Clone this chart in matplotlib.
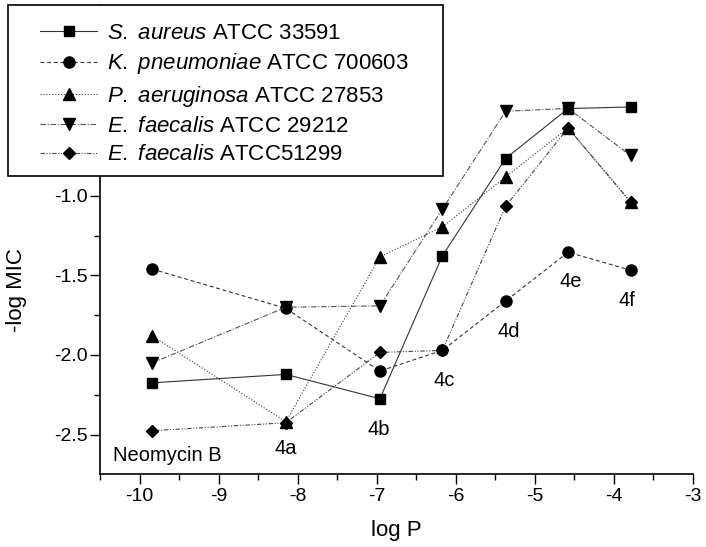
import numpy as np
import matplotlib
matplotlib.use('Agg')
import matplotlib.pyplot as plt
from matplotlib.ticker import MultipleLocator, FormatStrFormatter
from matplotlib.patches import Rectangle

plt.rcParams['font.family'] = ['Liberation Sans', 'DejaVu Sans']
plt.rcParams['mathtext.fontset'] = 'custom'
plt.rcParams['mathtext.rm'] = 'Liberation Sans'
plt.rcParams['mathtext.it'] = 'Liberation Sans:italic'

# log P of each compound (Neomycin B, 4a ... 4f)
log_p = [-9.84, -8.15, -6.96, -6.17, -5.37, -4.58, -3.79]
compounds = ['Neomycin B', '4a', '4b', '4c', '4d', '4e', '4f']

# -log MIC per strain
s_aureus = [-2.175, -2.122, -2.275, -1.377, -0.765, -0.451, -0.441]
k_pneumoniae = [-1.46, -1.707, -2.101, -1.971, -1.661, -1.354, -1.467]
p_aeruginosa = [-1.88, -2.42, -1.383, -1.195, -0.881, -0.573, -1.038]
e_faecalis_29212 = [-2.05, -1.70, -1.691, -1.084, -0.468, -0.45, -0.746]
e_faecalis_51299 = [-2.476, -2.426, -1.984, -1.971, -1.065, -0.573, -1.038]

# where the compound names sit (x, y in data units)
label_x = [-9.65, -8.15, -6.97, -6.15, -5.33, -4.54, -3.83]
label_y = [-2.63, -2.59, -2.47, -2.16, -1.855, -1.535, -1.66]

fig = plt.figure(figsize=(7.06, 5.47), dpi=100)
ax = fig.add_axes([100/706, 1 - 473.5/547, (693 - 100)/706, (473.5 - 5)/547])

lc = '#333333'
ax.plot(log_p, s_aureus, '-', color=lc, lw=0.8, marker='s', ms=7, mfc='k', mec='k',
        label=r'$\mathit{S.}$ $\mathit{aureus}$ ATCC 33591')
ax.plot(log_p, k_pneumoniae, '--', color=lc, lw=0.8, marker='o', ms=8, mfc='k', mec='k',
        dashes=(3.5, 2.5), label=r'$\mathit{K.}$ $\mathit{pneumoniae}$ ATCC 700603')
ax.plot(log_p, p_aeruginosa, ':', color=lc, lw=0.8, marker='^', ms=8, mfc='k', mec='k',
        label=r'$\mathit{P.}$ $\mathit{aeruginosa}$ ATCC 27853')
ax.plot(log_p, e_faecalis_29212, '-.', color='#555555', lw=0.8, marker='v', ms=8, mfc='k', mec='k',
        dashes=(5, 1.5, 1, 1.5), label=r'$\mathit{E.}$ $\mathit{faecalis}$ ATCC 29212')
ax.plot(log_p, e_faecalis_51299, color='#444444', lw=0.8, marker='D', ms=6.5, mfc='k', mec='k',
        dashes=(4, 1.5, 1, 1.5, 1, 1.5), label=r'$\mathit{E.}$ $\mathit{faecalis}$ ATCC51299')

for name, tx, ty in zip(compounds, label_x, label_y):
    ax.text(tx, ty, name, ha='center', va='center', fontsize=14.5)

ax.set_xlim(-10.5, -3)
ax.set_ylim(-2.745, 0.2)
ax.xaxis.set_major_locator(MultipleLocator(1))
ax.xaxis.set_minor_locator(MultipleLocator(0.5))
ax.yaxis.set_major_locator(MultipleLocator(0.5))
ax.yaxis.set_minor_locator(MultipleLocator(0.25))
ax.tick_params(which='major', direction='out', length=7, width=1.0, labelsize=14)
ax.tick_params(axis='y', which='major', pad=2)
ax.tick_params(which='minor', direction='out', length=4, width=1.0)
ax.yaxis.set_major_formatter(FormatStrFormatter('%.1f'))
ax.xaxis.set_major_formatter(FormatStrFormatter('%d'))
ax.spines['top'].set_visible(False)
ax.spines['right'].set_visible(False)
ax.spines['left'].set_linewidth(1.2)
ax.spines['bottom'].set_linewidth(1.2)

ax.set_xlabel('log P', fontsize=16)
ax.set_ylabel('-log MIC', fontsize=16)
ax.xaxis.set_label_coords(0.5, -(520 - 473.5)/468.5)
ax.yaxis.set_label_coords(-(100 - 27)/593, (473.5 - 290)/468.5)

# legend frame drawn as a box so the padding matches
box = Rectangle((8/706, 1 - 176/547), (443 - 8)/706, (176 - 5)/547,
                transform=fig.transFigure, facecolor='white', edgecolor='k',
                linewidth=1.2, zorder=3)
fig.patches.append(box)

leg = fig.legend(loc='upper left', bbox_to_anchor=(40/706, 1 - 23/547), borderaxespad=0,
                 fontsize=16, frameon=False, borderpad=0,
                 handlelength=2.57, handletextpad=0.45, labelspacing=0.33, numpoints=1)
leg.set_zorder(4)

fig.savefig('out.png', dpi=100)
